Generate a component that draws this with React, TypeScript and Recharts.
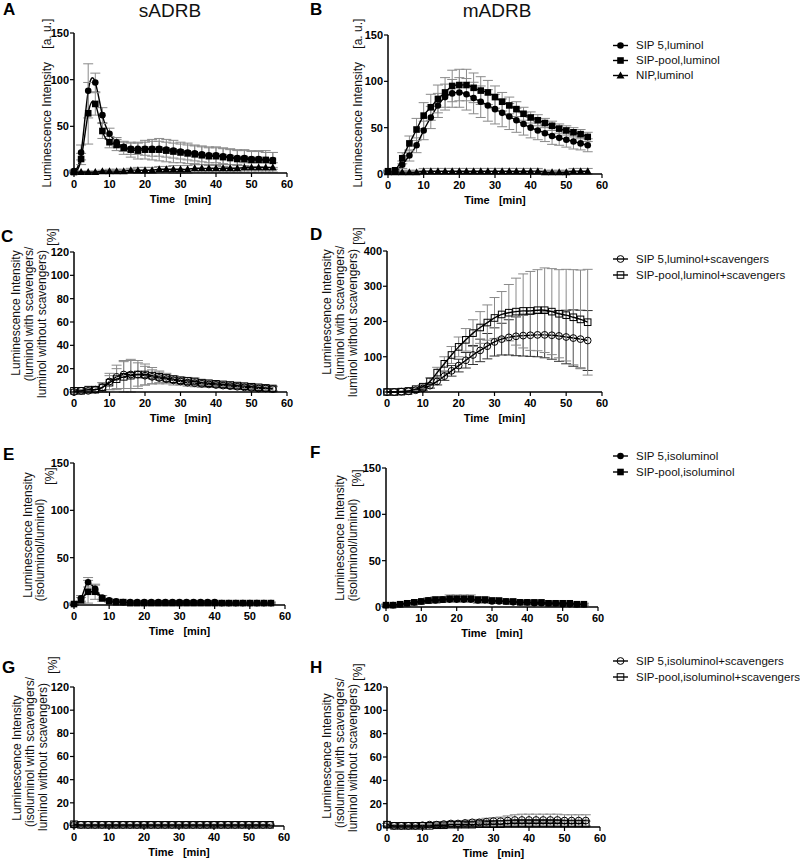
import React from 'react';
import { ComposedChart, Line, XAxis, YAxis, ErrorBar, Legend } from 'recharts';

const FONT = "'Liberation Sans', Arial, Helvetica, sans-serif";

// time points (min)
const TIME = [0, 2, 4, 6, 8, 10, 12, 14, 16, 18, 20, 22, 24, 26, 28, 30, 32, 34, 36, 38, 40, 42, 44, 46, 48, 50, 52, 54, 56];
const X_TICKS = [0, 10, 20, 30, 40, 50, 60];
const TICKS_150 = [0, 50, 100, 150];
const TICKS_120 = [0, 20, 40, 60, 80, 100, 120];
const TICKS_400 = [0, 100, 200, 300, 400];

const NAMES_LUM = ['SIP 5,luminol', 'SIP-pool,luminol', 'NIP,luminol'];
const NAMES_LUM_SCAV = ['SIP 5,luminol+scavengers', 'SIP-pool,luminol+scavengers'];
const NAMES_ISO = ['SIP 5,isoluminol', 'SIP-pool,isoluminol'];
const NAMES_ISO_SCAV = ['SIP 5,isoluminol+scavengers', 'SIP-pool,isoluminol+scavengers'];

// A: sADRB luminol
const A_SIP5 = [2, 22, 88, 97, 62, 42, 33, 28, 26, 26, 26, 26, 26, 25, 24, 23, 22, 21, 20, 19, 19, 18, 17, 16, 16, 15, 15, 14, 14];
const A_SIP5_ERR = [1, 8, 29, 10, 8, 6, 5, 5, 6, 6, 7, 8, 8, 8, 8, 8, 8, 8, 8, 8, 8, 8, 8, 8, 8, 8, 8, 8, 8];
const A_POOL = [1, 15, 64, 74, 45, 33, 30, 27, 25, 24, 25, 25, 25, 24, 23, 22, 21, 20, 19, 18, 18, 17, 16, 15, 15, 14, 14, 14, 13];
const A_POOL_ERR = [1, 6, 33, 12, 8, 6, 6, 7, 8, 9, 10, 11, 12, 12, 12, 11, 11, 10, 10, 10, 10, 10, 10, 10, 10, 10, 10, 10, 9];
const A_NIP = [1, 1, 1, 1, 2, 2, 2, 2, 3, 3, 3, 3, 4, 4, 4, 4, 4, 5, 5, 5, 5, 5, 5, 5, 6, 6, 6, 6, 6];
const A_NIP_ERR = [1, 1, 1, 1, 1, 2, 2, 2, 2, 3, 3, 3, 3, 3, 4, 4, 4, 4, 4, 4, 4, 4, 4, 4, 5, 5, 5, 5, 5];

// B: mADRB luminol
const B_SIP5 = [3, 3, 10, 20, 31, 47, 61, 74, 83, 87, 88, 86, 82, 78, 74, 70, 66, 62, 58, 54, 50, 47, 44, 41, 39, 37, 35, 33, 31];
const B_SIP5_ERR = [1, 2, 4, 6, 8, 10, 12, 13, 14, 15, 16, 17, 17, 17, 17, 16, 15, 14, 13, 12, 11, 10, 9, 9, 8, 8, 8, 7, 7];
const B_POOL = [3, 4, 17, 33, 48, 63, 72, 81, 88, 95, 96, 96, 93, 90, 88, 83, 78, 74, 70, 65, 61, 58, 55, 52, 49, 47, 45, 43, 40];
const B_POOL_ERR = [1, 2, 6, 8, 12, 14, 14, 15, 16, 17, 17, 17, 16, 15, 13, 12, 10, 9, 8, 7, 6, 6, 5, 5, 5, 5, 5, 5, 5];
const B_NIP = [2, 2, 2, 2, 2, 3, 3, 3, 3, 3, 3, 3, 3, 3, 3, 3, 3, 3, 3, 3, 3, 3, 2, 2, 2, 2, 3, 3, 3];
const B_NIP_ERR = [1, 2, 2, 2, 2, 3, 3, 3, 3, 3, 3, 3, 3, 3, 3, 3, 3, 3, 3, 3, 3, 3, 2, 2, 2, 2, 3, 3, 3];

// C: sADRB luminol + scavengers
const C_SIP5 = [0, 1, 1, 2, 4, 9, 13, 15, 15, 15, 14, 13, 12, 11, 10, 9, 8, 7.5, 7, 6.5, 6, 5.5, 5, 4.5, 4, 3.5, 3, 3, 2.5];
const C_SIP5_ERR = [0, 1, 1, 2, 4, 7, 10, 12, 12, 10, 8, 6, 5, 4, 4, 3, 3, 3, 3, 2, 2, 2, 2, 2, 2, 2, 2, 2, 2];
const C_POOL = [1, 1, 2, 2, 4, 8, 11, 13, 14, 15, 15, 14, 13, 12, 11, 10, 9.5, 9, 8, 7.5, 7, 6.5, 6, 5.5, 5, 4.5, 4, 3.5, 3];
const C_POOL_ERR = [1, 1, 1, 2, 4, 6, 9, 13, 14, 12, 9, 7, 5, 4, 3, 3, 3, 3, 2, 2, 2, 2, 2, 2, 2, 2, 2, 2, 2];

// D: mADRB luminol + scavengers
const D_SIP5 = [0, 0, 1, 2, 5, 10, 18, 30, 45, 60, 75, 90, 105, 118, 130, 142, 150, 155, 158, 160, 161, 162, 162, 161, 159, 156, 153, 150, 146];
const D_SIP5_ERR = [0, 0, 1, 2, 3, 5, 7, 10, 12, 15, 18, 22, 27, 32, 36, 40, 45, 50, 55, 58, 60, 62, 65, 68, 72, 76, 80, 82, 85];
const D_POOL = [0, 0, 1, 3, 8, 15, 30, 55, 80, 105, 128, 148, 167, 183, 197, 210, 220, 225, 228, 230, 230, 232, 232, 228, 222, 218, 212, 206, 198];
const D_POOL_ERR = [0, 0, 1, 2, 4, 6, 10, 15, 20, 24, 28, 32, 38, 45, 50, 58, 65, 80, 95, 105, 112, 115, 120, 122, 125, 130, 135, 140, 150];

// E: sADRB isoluminol
const E_SIP5 = [1, 7, 24, 17, 8, 5, 4, 3, 3, 3, 3, 3, 3, 3, 3, 3, 3, 3, 3, 3, 3, 2, 2, 2, 2, 2, 2, 2, 2];
const E_SIP5_ERR = [1, 3, 5, 4, 2, 1, 1, 1, 1, 1, 1, 1, 1, 1, 1, 1, 1, 1, 1, 1, 1, 1, 1, 1, 1, 1, 1, 1, 1];
const E_POOL = [1, 5, 14, 14, 7, 4, 3, 3, 2, 2, 2, 2, 2, 2, 2, 2, 2, 2, 2, 2, 2, 2, 2, 2, 2, 2, 2, 2, 2];
const E_POOL_ERR = [1, 3, 12, 8, 3, 1, 1, 1, 1, 1, 1, 1, 1, 1, 1, 1, 1, 1, 1, 1, 1, 1, 1, 1, 1, 1, 1, 1, 1];

// F: mADRB isoluminol
const F_SIP5 = [2, 2, 3, 4, 5, 6, 7, 7, 8, 8, 8, 8, 8, 7, 7, 6, 6, 6, 5, 5, 5, 4, 4, 4, 4, 3, 3, 3, 3];
const F_SIP5_ERR = [1, 1, 1, 1, 2, 2, 2, 3, 3, 3, 3, 3, 3, 3, 2, 2, 2, 2, 2, 2, 2, 1, 1, 1, 1, 1, 1, 1, 1];
const F_POOL = [2, 2, 3, 4, 5, 6, 7, 8, 8, 9, 9, 9, 9, 8, 8, 7, 7, 6, 6, 5, 5, 5, 5, 4, 4, 4, 4, 3, 3];
const F_POOL_ERR = [1, 1, 1, 1, 2, 2, 3, 3, 3, 4, 4, 4, 4, 3, 3, 3, 2, 2, 2, 2, 2, 2, 2, 1, 1, 1, 1, 1, 1];

// G: sADRB isoluminol + scavengers
const G_SIP5 = [1, 1, 1, 1, 1, 1, 1, 1, 1, 1, 1, 1, 1, 1, 1, 1, 1, 1, 1, 1, 1, 1, 1, 1, 1, 1, 1, 1, 1];
const G_SIP5_ERR = [0.5, 0.5, 0.5, 0.5, 0.5, 0.5, 0.5, 0.5, 0.5, 0.5, 0.5, 0.5, 0.5, 0.5, 0.5, 0.5, 0.5, 0.5, 0.5, 0.5, 0.5, 0.5, 0.5, 0.5, 0.5, 0.5, 0.5, 0.5, 0.5];
const G_POOL = [1.5, 1, 1, 1, 1, 1, 1, 1, 1, 1, 1, 1, 1, 1, 1, 1, 1, 1, 1, 1, 1, 1, 1, 1, 1, 1, 1, 1, 1];
const G_POOL_ERR = [1, 0.5, 0.5, 0.5, 0.5, 0.5, 0.5, 0.5, 0.5, 0.5, 0.5, 0.5, 0.5, 0.5, 0.5, 0.5, 0.5, 0.5, 0.5, 0.5, 0.5, 0.5, 0.5, 0.5, 0.5, 0.5, 0.5, 0.5, 0.5];

// H: mADRB isoluminol + scavengers
const H_SIP5 = [2, 1, 1, 1, 1, 1.5, 2, 2, 2.5, 3, 3, 3.5, 4, 4, 4.5, 5, 5, 5.5, 6, 6, 6, 6, 6, 6, 6, 5.5, 5.5, 5.5, 5.5];
const H_SIP5_ERR = [1, 1, 1, 1, 1, 1, 1, 1, 1.5, 1.5, 2, 2, 2, 2.5, 3, 3, 3.5, 4, 4.5, 5, 5, 5, 5, 5, 5, 5, 5, 5, 5];
const H_POOL = [2, 1, 1, 1, 1, 1, 1, 1.5, 1.5, 2, 2, 2, 2, 2.5, 2.5, 2.5, 2.5, 3, 3, 3, 3, 3, 3, 3, 3, 3, 3, 3, 3];
const H_POOL_ERR = [1, 1, 1, 1, 1, 1, 1, 1, 1, 1, 1, 1, 1.5, 1.5, 1.5, 1.5, 2, 2, 2, 2, 2, 2, 2, 2, 2, 2, 2, 2, 2];

type Shape = 'circle' | 'square' | 'triangle' | 'ocircle' | 'osquare';
type Series = { name: string; shape: Shape; values: number[]; errors: number[]; errColor: string };
type LabelLine = { text: string; dx: number; dy: number };
type Panel = {
  id: string;
  plotLeft: number;
  plotTop: number;
  plotW: number;
  plotH: number;
  yMax: number;
  yTicks: number[];
  curve: 'natural' | 'monotone';
  series: Series[];
  yLabel: LabelLine[];
  legend?: { x: number; y: number; rowH: number };
};

const Y_W = 80;
const M_TOP = 32;
const M_RIGHT = 15;
const X_H = 40;
const GREY = '#8a8a8a';
const NB = '\u00a0';

function Marker({ shape, cx, cy }: { shape: Shape; cx: number; cy: number }) {
  const s = 3.3;
  switch (shape) {
    case 'circle':
      return <circle cx={cx} cy={cy} r={s} fill="#000" />;
    case 'square':
      return <rect x={cx - s} y={cy - s} width={s * 2} height={s * 2} fill="#000" />;
    case 'triangle':
      return <polygon points={`${cx},${cy - 4} ${cx - 4},${cy + 3} ${cx + 4},${cy + 3}`} fill="#000" />;
    case 'ocircle':
      return <circle cx={cx} cy={cy} r={3.4} fill="none" stroke="#000" strokeWidth={1} />;
    case 'osquare':
      return <rect x={cx - 3.3} y={cy - 3.3} width={6.6} height={6.6} fill="none" stroke="#000" strokeWidth={1} />;
  }
  return null;
}

const lumSeries = (v: number[][], e: number[][]): Series[] => [
  { name: NAMES_LUM[0], shape: 'circle', values: v[0], errors: e[0], errColor: GREY },
  { name: NAMES_LUM[1], shape: 'square', values: v[1], errors: e[1], errColor: GREY },
  { name: NAMES_LUM[2], shape: 'triangle', values: v[2], errors: e[2], errColor: GREY },
];

const LABEL_LUM = `Luminescence Intensity${NB}${NB}${NB}${NB}[a. u.]`;

const PANELS: Panel[] = [
  {
    id: 'A', plotLeft: 74, plotTop: 33, plotW: 213, plotH: 140, yMax: 150, yTicks: TICKS_150, curve: 'natural',
    series: lumSeries([A_SIP5, A_POOL, A_NIP], [A_SIP5_ERR, A_POOL_ERR, A_NIP_ERR]),
    yLabel: [{ text: LABEL_LUM, dx: -27, dy: 70 }],
  },
  {
    id: 'B', plotLeft: 388, plotTop: 35, plotW: 214, plotH: 139, yMax: 150, yTicks: TICKS_150, curve: 'natural',
    series: lumSeries([B_SIP5, B_POOL, B_NIP], [B_SIP5_ERR, B_POOL_ERR, B_NIP_ERR]),
    yLabel: [{ text: LABEL_LUM, dx: -30, dy: 68 }],
    legend: { x: 612, y: 37.5, rowH: 15 },
  },
  {
    id: 'C', plotLeft: 74, plotTop: 252, plotW: 213, plotH: 140, yMax: 120, yTicks: TICKS_120, curve: 'natural',
    series: [
      { name: NAMES_LUM_SCAV[0], shape: 'ocircle', values: C_SIP5, errors: C_SIP5_ERR, errColor: GREY },
      { name: NAMES_LUM_SCAV[1], shape: 'osquare', values: C_POOL, errors: C_POOL_ERR, errColor: GREY },
    ],
    yLabel: [
      { text: 'Luminescence Intensity', dx: -58, dy: 61 },
      { text: '(luminol with scavengers/', dx: -45, dy: 62 },
      { text: 'luminol without scavengers)', dx: -32, dy: 72 },
      { text: '[%]', dx: -22, dy: -15 },
    ],
  },
  {
    id: 'D', plotLeft: 387, plotTop: 251, plotW: 215, plotH: 141, yMax: 400, yTicks: TICKS_400, curve: 'natural',
    series: [
      { name: NAMES_LUM_SCAV[0], shape: 'ocircle', values: D_SIP5, errors: D_SIP5_ERR, errColor: '#333' },
      { name: NAMES_LUM_SCAV[1], shape: 'osquare', values: D_POOL, errors: D_POOL_ERR, errColor: GREY },
    ],
    yLabel: [
      { text: 'Luminescence Intensity', dx: -60, dy: 61 },
      { text: '(luminol with scavengers/', dx: -47, dy: 62 },
      { text: 'luminol without scavengers)', dx: -34, dy: 72 },
      { text: '[%]', dx: -29, dy: -15 },
    ],
    legend: { x: 612, y: 251, rowH: 16 },
  },
  {
    id: 'E', plotLeft: 74, plotTop: 463, plotW: 211, plotH: 142, yMax: 150, yTicks: TICKS_150, curve: 'monotone',
    series: [
      { name: NAMES_ISO[0], shape: 'circle', values: E_SIP5, errors: E_SIP5_ERR, errColor: GREY },
      { name: NAMES_ISO[1], shape: 'square', values: E_POOL, errors: E_POOL_ERR, errColor: GREY },
    ],
    yLabel: [
      { text: 'Luminescence Intensity', dx: -46, dy: 72 },
      { text: '(isoluminol/luminol)', dx: -34, dy: 87 },
      { text: '[%]', dx: -24, dy: 13 },
    ],
  },
  {
    id: 'F', plotLeft: 386, plotTop: 468, plotW: 212, plotH: 139, yMax: 150, yTicks: TICKS_150, curve: 'natural',
    series: [
      { name: NAMES_ISO[0], shape: 'circle', values: F_SIP5, errors: F_SIP5_ERR, errColor: GREY },
      { name: NAMES_ISO[1], shape: 'square', values: F_POOL, errors: F_POOL_ERR, errColor: GREY },
    ],
    yLabel: [
      { text: 'Luminescence Intensity', dx: -46, dy: 70 },
      { text: '(isoluminol/luminol)', dx: -33, dy: 82 },
      { text: '[%]', dx: -29, dy: 10 },
    ],
    legend: { x: 612, y: 448, rowH: 16 },
  },
  {
    id: 'G', plotLeft: 74, plotTop: 687, plotW: 210, plotH: 139, yMax: 120, yTicks: TICKS_120, curve: 'monotone',
    series: [
      { name: NAMES_ISO_SCAV[0], shape: 'ocircle', values: G_SIP5, errors: G_SIP5_ERR, errColor: GREY },
      { name: NAMES_ISO_SCAV[1], shape: 'osquare', values: G_POOL, errors: G_POOL_ERR, errColor: GREY },
    ],
    yLabel: [
      { text: 'Luminescence Intensity', dx: -57, dy: 71 },
      { text: '(isoluminol with scavengers/', dx: -44, dy: 65 },
      { text: 'luminol without scavengers)', dx: -31, dy: 70 },
      { text: '[%]', dx: -21, dy: -22 },
    ],
  },
  {
    id: 'H', plotLeft: 387, plotTop: 687, plotW: 213, plotH: 140, yMax: 120, yTicks: TICKS_120, curve: 'monotone',
    series: [
      { name: NAMES_ISO_SCAV[0], shape: 'ocircle', values: H_SIP5, errors: H_SIP5_ERR, errColor: GREY },
      { name: NAMES_ISO_SCAV[1], shape: 'osquare', values: H_POOL, errors: H_POOL_ERR, errColor: GREY },
    ],
    yLabel: [
      { text: 'Luminescence Intensity', dx: -60, dy: 69 },
      { text: '(isoluminol with scavengers/', dx: -47, dy: 66 },
      { text: 'luminol without scavengers)', dx: -34, dy: 71 },
      { text: '[%]', dx: -29, dy: -15 },
    ],
    legend: { x: 612, y: 653, rowH: 16 },
  },
];

const LETTERS = [
  { t: 'A', x: 3, y: 15 }, { t: 'B', x: 310, y: 15 },
  { t: 'C', x: 1, y: 242 }, { t: 'D', x: 310, y: 240 },
  { t: 'E', x: 3, y: 460 }, { t: 'F', x: 310, y: 458 },
  { t: 'G', x: 2, y: 673 }, { t: 'H', x: 310, y: 673 },
];

function LegendBox({ series, rowH }: { series: Series[]; rowH: number }) {
  return (
    <div style={{ fontFamily: FONT, fontSize: 11.5, color: '#111' }}>
      {series.map((s) => (
        <div key={s.name} style={{ display: 'flex', alignItems: 'center', height: rowH, whiteSpace: 'nowrap' }}>
          <svg width={24} height={rowH} style={{ flex: 'none' }}>
            <line x1={1} x2={16} y1={rowH / 2} y2={rowH / 2} stroke="#000" strokeWidth={1.4} />
            <Marker shape={s.shape} cx={8.5} cy={rowH / 2} />
          </svg>
          <span>{s.name}</span>
        </div>
      ))}
    </div>
  );
}

function PanelChart({ p }: { p: Panel }) {
  const data = TIME.map((t, i) => {
    const row: Record<string, number> = { t };
    p.series.forEach((s, k) => {
      row[`v${k}`] = s.values[i];
      row[`e${k}`] = s.errors[i];
    });
    return row;
  });
  const width = Y_W + p.plotW + M_RIGHT;
  const height = M_TOP + p.plotH + X_H;
  const left = p.plotLeft - Y_W;
  const top = p.plotTop - M_TOP;
  const tickStyle = { fill: '#000', fontSize: 11, fontWeight: 'bold' as const, fontFamily: FONT };

  return (
    <div style={{ position: 'absolute', left, top, width, height }}>
      <ComposedChart
        width={width}
        height={height}
        data={data}
        margin={{ top: M_TOP, right: M_RIGHT, left: 0, bottom: 0 }}
        style={{ overflow: 'visible' }}
      >
        <XAxis
          type="number"
          dataKey="t"
          domain={[0, 60]}
          ticks={X_TICKS}
          interval={0}
          height={X_H}
          tick={tickStyle}
          tickSize={4}
          tickMargin={3}
          axisLine={{ stroke: '#000', strokeWidth: 1.5 }}
          tickLine={{ stroke: '#000', strokeWidth: 1.2 }}
          label={() => (
            <text
              x={Y_W + p.plotW / 2}
              y={M_TOP + p.plotH + 30}
              textAnchor="middle"
              fontFamily={FONT}
              fontSize={11}
              fontWeight="bold"
              fill="#000"
            >
              {`Time${NB}${NB}${NB}[min]`}
            </text>
          )}
        />
        <YAxis
          type="number"
          domain={[0, p.yMax]}
          ticks={p.yTicks}
          interval={0}
          width={Y_W}
          tick={tickStyle}
          tickSize={4}
          tickMargin={1}
          axisLine={{ stroke: '#000', strokeWidth: 1.5 }}
          tickLine={{ stroke: '#000', strokeWidth: 1.2 }}
          label={() => (
            <g>
              {p.yLabel.map((l) => {
                const x = Y_W + l.dx;
                const y = M_TOP + l.dy;
                return (
                  <text
                    key={l.text}
                    x={x}
                    y={y}
                    transform={`rotate(-90 ${x} ${y})`}
                    textAnchor="middle"
                    dominantBaseline="central"
                    fontFamily={FONT}
                    fontSize={12}
                    fill="#111"
                  >
                    {l.text}
                  </text>
                );
              })}
            </g>
          )}
        />
        {p.series.map((s, k) => (
          <Line
            key={s.name}
            dataKey={`v${k}`}
            name={s.name}
            type={p.curve}
            stroke="#000"
            strokeWidth={1.4}
            isAnimationActive={false}
            activeDot={false}
            dot={(d: any) => <Marker key={`${s.name}-${d.index}`} shape={s.shape} cx={d.cx} cy={d.cy} />}
          >
            <ErrorBar dataKey={`e${k}`} width={5} stroke={s.errColor} strokeWidth={1} direction="y" />
          </Line>
        ))}
        {p.legend && (
          <Legend
            layout="vertical"
            align="center"
            verticalAlign="middle"
            wrapperStyle={{ left: p.legend.x - left, top: p.legend.y - top, width: 190 }}
            content={() => <LegendBox series={p.series} rowH={p.legend!.rowH} />}
          />
        )}
      </ComposedChart>
    </div>
  );
}

export default function App() {
  return (
    <div style={{ position: 'absolute', left: 0, top: 0, width: 800, height: 861, background: '#fff', fontFamily: FONT }}>
      <svg width={800} height={861} style={{ position: 'absolute', left: 0, top: 0 }}>
        <text x={170} y={17} textAnchor="middle" fontFamily={FONT} fontSize={19} fill="#111">sADRB</text>
        <text x={497} y={17} textAnchor="middle" fontFamily={FONT} fontSize={19} fill="#111">mADRB</text>
        {LETTERS.map((l) => (
          <text key={l.t} x={l.x} y={l.y} fontFamily={FONT} fontSize={17} fontWeight="bold" fill="#000">
            {l.t}
          </text>
        ))}
      </svg>
      {PANELS.map((p) => (
        <PanelChart key={p.id} p={p} />
      ))}
    </div>
  );
}
